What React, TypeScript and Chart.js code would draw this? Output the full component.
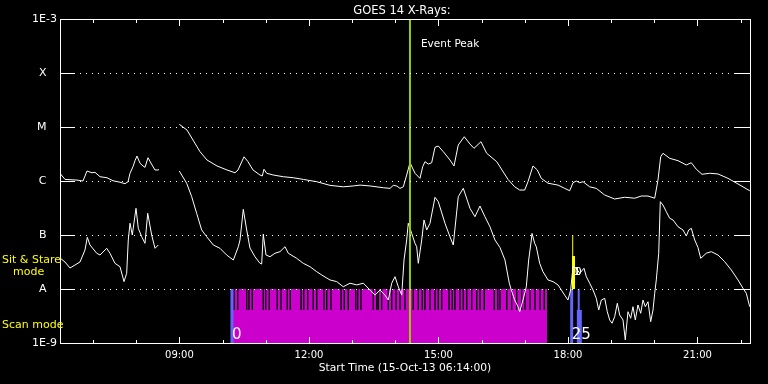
import React, { useEffect, useRef } from 'react';
import { Chart, registerables } from 'chart.js';

Chart.register(...registerables);

const TITLE = 'GOES 14 X-Rays:';
const X_TITLE = 'Start Time (15-Oct-13 06:14:00)';
const EVENT_LABEL = 'Event Peak';
const STARE_LABEL = ['Sit & Stare', 'mode'];
const SCAN_LABEL = 'Scan mode';
const FONT = '"DejaVu Sans", "Liberation Sans", sans-serif';

const T_START = 6 + 14 / 60;
const T_END = 22 + 13 / 60;

const yTickValues = [1e-9, 1e-8, 1e-7, 1e-6, 1e-5, 1e-4, 1e-3];
const yTickLabels = ['1E-9', 'A   ', 'B   ', 'C   ', 'M   ', 'X   ', '1E-3'];
const xMinorHours = [7, 8, 9, 10, 11, 12, 13, 14, 15, 16, 17, 18, 19, 20, 21, 22];
const xLabelHours = [9, 12, 15, 18, 21];

const eventPeakTime = 14.34;

// GOES long channel (1-8 A)
const longTimes = [
  6.233, 6.349, 6.627, 6.766, 6.859, 6.975, 7.044, 7.16, 7.322, 7.461, 7.623, 7.739, 7.809, 7.855,
  7.924, 7.971, 8.017, 8.087, 8.156, 8.202, 8.272, 8.365, 8.434, 8.503, 8.527, 8.75,
  8.997, 9.175, 9.314, 9.476, 9.638, 9.87, 10.102, 10.287, 10.357, 10.496, 10.588, 10.704, 10.866,
  10.919, 10.958, 11.021, 11.174, 11.406, 11.637, 11.869, 12.18, 12.488, 12.796, 13.028, 13.183,
  13.414, 13.722, 13.878, 13.954, 14.033, 14.109, 14.186, 14.264, 14.341, 14.457, 14.572, 14.635,
  14.688, 14.765, 14.843, 14.92, 14.996, 15.112, 15.267, 15.36, 15.459, 15.598, 15.73, 15.823,
  15.985, 16.117, 16.349, 16.611, 16.766, 16.882, 16.998, 17.074, 17.19, 17.29, 17.382, 17.537,
  17.769, 17.924, 18.04, 18.117, 18.193, 18.272, 18.348, 18.503, 18.656, 18.851, 19.082, 19.314,
  19.546, 19.699, 19.854, 20.009, 20.085, 20.148, 20.201, 20.356, 20.549, 20.741, 20.857, 20.973,
  21.105, 21.283, 21.476, 21.707, 21.939, 22.21,
];
const longFlux = [
  1.39e-6, 1.07e-6, 1.04e-6, 1.0e-6, 1.53e-6, 1.42e-6, 1.45e-6, 1.2e-6, 1.15e-6, 1.01e-6, 9.5e-7, 8.9e-7, 9.7e-7, 1.39e-6,
  1.84e-6, 2.38e-6, 2.9e-6, 2.13e-6, 1.9e-6, 1.79e-6, 2.7e-6, 1.98e-6, 1.6e-6, 1.6e-6, 1.63e-6, null,
  1.12e-5, 8.8e-6, 5.74e-6, 3.49e-6, 2.45e-6, 1.9e-6, 1.6e-6, 1.42e-6, 1.6e-6, 2.81e-6, 2.28e-6, 1.6e-6, 1.29e-6,
  1.24e-6, 1.65e-6, 1.39e-6, 1.29e-6, 1.2e-6, 1.15e-6, 1.07e-6, 9.7e-7, 8.3e-7, 7.8e-7, 8.1e-7, 8.4e-7,
  8.1e-7, 7.5e-7, 7.3e-7, 8.3e-7, 8.1e-7, 7.3e-7, 7.8e-7, 1.29e-6, 2.18e-6, 1.39e-6, 1.12e-6, 1.84e-6,
  2.28e-6, 2.06e-6, 2.18e-6, 4.21e-6, 4.45e-6, 3.49e-6, 2.45e-6, 1.9e-6, 4.64e-6, 6.6e-6, 4.84e-6, 4.03e-6,
  5.34e-6, 3.26e-6, 2.28e-6, 1.07e-6, 7.8e-7, 6.8e-7, 6.8e-7, 9.7e-7, 1.9e-6, 1.6e-6, 1.12e-6, 9.1e-7,
  8.4e-7, 7.3e-7, 6.6e-7, 9.3e-7, 1.0e-6, 9.3e-7, 9.7e-7, 7.8e-7, 7.3e-7, 5.5e-7, 4.64e-7, 5.0e-7,
  4.8e-7, 5.27e-7, 5.27e-7, 4.8e-7, 1.04e-6, 2.81e-6, 3.26e-6, 2.63e-6, 2.38e-6, 1.98e-6, 2.18e-6, 1.65e-6,
  1.33e-6, 1.39e-6, 1.35e-6, 1.12e-6, 8.8e-7, 6.6e-7,
];

// GOES short channel (0.5-4 A)
const shortTimes = [
  6.233, 6.349, 6.465, 6.581, 6.696, 6.812, 6.866, 6.928, 7.083, 7.16, 7.315, 7.391, 7.507, 7.623,
  7.716, 7.778, 7.815, 7.855, 7.908, 7.994, 8.047, 8.126, 8.202, 8.265, 8.357, 8.434, 8.51, 8.75,
  8.997, 9.168, 9.284, 9.399, 9.515, 9.631, 9.784, 9.939, 10.094, 10.248, 10.364, 10.403, 10.479,
  10.558, 10.634, 10.75, 10.866, 10.905, 10.942, 11.005, 11.098, 11.213, 11.329, 11.445, 11.522,
  11.716, 11.869, 12.024, 12.18, 12.295, 12.488, 12.643, 12.796, 12.951, 13.106, 13.259, 13.414,
  13.53, 13.646, 13.762, 13.838, 13.917, 13.994, 14.07, 14.149, 14.202, 14.264, 14.301, 14.38,
  14.457, 14.496, 14.533, 14.612, 14.665, 14.728, 14.804, 14.92, 14.996, 15.151, 15.251, 15.343,
  15.459, 15.575, 15.73, 15.845, 15.961, 16.077, 16.193, 16.309, 16.425, 16.541, 16.641, 16.687,
  16.766, 16.843, 16.882, 16.958, 17.035, 17.09, 17.151, 17.167, 17.229, 17.266, 17.345, 17.421,
  17.537, 17.653, 17.769, 17.846, 17.924, 18.0, 18.063, 18.117, 18.193, 18.272, 18.371, 18.425,
  18.503, 18.58, 18.656, 18.712, 18.773, 18.851, 18.911, 18.967, 19.02, 19.082, 19.143, 19.198,
  19.275, 19.328, 19.39, 19.453, 19.506, 19.56, 19.622, 19.685, 19.738, 19.792, 19.854, 19.916,
  19.97, 20.009, 20.046, 20.102, 20.139, 20.201, 20.278, 20.356, 20.433, 20.549, 20.665, 20.741,
  20.797, 20.857, 20.936, 21.012, 21.075, 21.204, 21.32, 21.476, 21.631, 21.784, 21.939, 22.055,
  22.131, 22.21,
];
const shortFlux = [
  3.75e-8, 3.16e-8, 2.45e-8, 2.78e-8, 3.16e-8, 5.27e-8, 9.06e-8, 6.53e-8, 4.59e-8, 4.26e-8, 5.67e-8, 4.59e-8, 2.99e-8, 2.59e-8,
  1.37e-8, 1.95e-8, 8.08e-8, 1.65e-7, 1.0e-7, 3.12e-7, 1.33e-7, 9.3e-8, 7.02e-8, 2.52e-7, 1.0e-7, 5.67e-8, 6.53e-8, null,
  1.53e-6, 9.06e-7, 5.12e-7, 2.52e-7, 1.24e-7, 9.3e-8, 6.53e-8, 5.67e-8, 4.26e-8, 3.44e-8, 6.07e-8, 8.08e-8, 2.99e-7,
  1.24e-7, 5.74e-8, 3.96e-8, 2.99e-8, 2.9e-8, 1.04e-7, 4.26e-8, 3.96e-8, 4.59e-8, 4.91e-8, 6.07e-8, 4.59e-8,
  3.7e-8, 2.99e-8, 2.59e-8, 2.09e-8, 1.82e-8, 1.47e-8, 1.37e-8, 1.1e-8, 1.28e-8, 1.19e-8, 1.28e-8, 9.6e-9,
  7.7e-9, 9.6e-9, 7.7e-9, 6.25e-9, 1.28e-8, 1.69e-8, 1.1e-8, 7.7e-9, 3.44e-8, 8.08e-8, 1.65e-7, 1.07e-7,
  7.02e-8, 6.07e-8, 2.99e-8, 8.08e-8, 1.9e-7, 1.24e-7, 1.65e-7, 4.99e-7, 4.14e-7, 1.65e-7, 1.0e-7, 6.53e-8,
  5.12e-7, 7.33e-7, 3.12e-7, 2.18e-7, 3.44e-7, 2.18e-7, 1.42e-7, 8.08e-8, 5.87e-8, 3.44e-8, 1.28e-8, 9.6e-9,
  6.25e-9, 4.7e-9, 3.8e-9, 6.25e-9, 1.1e-8, 3.44e-8, 8.08e-8, 1.07e-7, 7.02e-8, 6.07e-8, 2.99e-8, 2.09e-8,
  1.47e-8, 1.37e-8, 1.19e-8, 9.6e-9, 7.7e-9, 6.25e-9, 9.6e-9, 2.59e-8, 2.42e-8, 1.95e-8, 2.42e-8, 1.69e-8,
  1.28e-8, 9.6e-9, 6.72e-9, 4.08e-9, 6.25e-9, 6.72e-9, 3.8e-9, 2.67e-9, 2.32e-9, 3.07e-9, 5.44e-9, 3.3e-9,
  2.67e-9, 1.14e-9, 3.8e-9, 2.87e-9, 4.7e-9, 2.67e-9, 5.06e-9, 3.55e-9, 6.25e-9, 4.7e-9, 5.82e-9, 2.48e-9,
  4.08e-9, 8.33e-9, 1.47e-8, 4.59e-8, 4.14e-7, 3.59e-7, 2.7e-7, 2.04e-7, 1.9e-7, 1.42e-7, 1.24e-7, 9.58e-8,
  1.24e-7, 1.33e-7, 8.08e-8, 5.87e-8, 3.7e-8, 4.59e-8, 4.91e-8, 4.26e-8, 3.2e-8, 2.25e-8, 1.47e-8, 1.03e-8,
  8.33e-9, 4.7e-9,
];

// Observation mode bands
const SCAN_LOW = 1e-9;
const SCAN_MID = 4.08e-9;
const SCAN_TOP = 1e-8;
const STARE_MID = 4.08e-8;
const STARE_TOP = 1e-7;

const scanSpan = [10.241, 17.514];
const scanGapTimes = [
  10.264, 10.35, 10.558, 10.611, 10.688, 10.943, 10.998, 11.082, 11.267, 11.353, 11.499, 11.568,
  11.816, 11.879, 11.971, 12.101, 12.18, 12.349, 12.411, 12.511, 12.743, 12.819, 12.912, 13.083,
  13.129, 13.206, 13.491, 13.569, 13.607, 13.685, 13.838, 13.917, 14.017, 14.109, 14.225, 14.417,
  14.533, 14.626, 14.688, 14.804, 14.92, 14.996, 15.075, 15.244, 15.321, 15.383, 15.499, 15.576,
  15.654, 15.77, 15.886, 15.962, 16.062, 16.294, 16.372, 16.426, 16.581, 16.696, 16.812, 16.928,
  17.005, 17.121, 17.236, 17.352, 17.452,
];
const scanStartTimes = [10.217, 18.086];
const scanStartLabels = ['0', '25'];
const scanUpperTimes = [18.249];
const scanLowerTimes = [18.263];
const stareThinTimes = [18.11];
const stareThickTimes = [18.128];
const stareLabel = ['1', '0'];

function series(times: number[], values: (number | null)[]) {
  return times.map((t, i) => ({ x: t, y: values[i] }));
}

function verticals(times: number[], lo: number, hi: number) {
  const pts: { x: number; y: number | null }[] = [];
  times.forEach((t) => {
    pts.push({ x: t, y: lo }, { x: t, y: hi }, { x: t, y: null });
  });
  return pts;
}

const framePlugin = {
  id: 'goesFrame',
  beforeDraw(chart: any) {
    const { ctx, width, height } = chart;
    ctx.save();
    ctx.fillStyle = '#000000';
    ctx.fillRect(0, 0, width, height);
    ctx.restore();
  },
  afterDraw(chart: any) {
    const { ctx, chartArea } = chart;
    const xs = chart.scales.x;
    const ys = chart.scales.y;
    const { left, right, top, bottom } = chartArea;
    ctx.save();
    ctx.strokeStyle = '#ffffff';
    ctx.fillStyle = '#ffffff';
    ctx.lineWidth = 1;

    // dotted grid and y ticks
    yTickValues.forEach((v, i) => {
      if (i === 0 || i === yTickValues.length - 1) return;
      const y = Math.round(ys.getPixelForValue(v));
      for (let x = left + 20; x <= right - 16; x += 6) ctx.fillRect(x, y, 1, 1);
      ctx.beginPath();
      ctx.moveTo(left, y + 0.5);
      ctx.lineTo(left + 15, y + 0.5);
      ctx.moveTo(right - 15, y + 0.5);
      ctx.lineTo(right + 1, y + 0.5);
      ctx.stroke();
    });

    // x ticks (inward, top and bottom)
    xMinorHours.forEach((h) => {
      const x = Math.round(xs.getPixelForValue(h)) + 0.5;
      const major = xLabelHours.includes(h);
      ctx.beginPath();
      ctx.moveTo(x, top);
      ctx.lineTo(x, top + (major ? 7 : 4));
      ctx.moveTo(x, bottom + 1);
      ctx.lineTo(x, bottom - (major ? 6 : 3));
      ctx.stroke();
    });

    // box
    ctx.strokeRect(left + 0.5, top + 0.5, right - left, bottom - top);

    // title
    ctx.font = `11.5px ${FONT}`;
    ctx.textAlign = 'center';
    ctx.textBaseline = 'alphabetic';
    ctx.fillText(TITLE, 402, 14);

    // event label
    const ex = xs.getPixelForValue(eventPeakTime);
    ctx.font = `10.5px ${FONT}`;
    ctx.textAlign = 'left';
    ctx.fillText(EVENT_LABEL, ex + 11, top + 28);

    // scan index labels
    ctx.font = `15px ${FONT}`;
    scanStartTimes.forEach((t, i) => {
      ctx.fillText(scanStartLabels[i], xs.getPixelForValue(t), bottom - 4);
    });
    ctx.font = `11px ${FONT}`;
    stareThinTimes.forEach((t) => {
      const sx = xs.getPixelForValue(t);
      ctx.fillText(stareLabel[0], sx + 1, ys.getPixelForValue(STARE_MID) + 19);
      ctx.fillText(stareLabel[1], sx + 2, ys.getPixelForValue(STARE_MID) + 19);
    });

    // mode labels
    ctx.fillStyle = '#ffff00';
    ctx.font = `11px ${FONT}`;
    ctx.fillText(STARE_LABEL[0], 2, 263);
    ctx.fillText(STARE_LABEL[1], 13, 275);
    ctx.fillText(SCAN_LABEL, 2, 328);
    ctx.restore();
  },
};

export default function App() {
  const ref = useRef<HTMLCanvasElement | null>(null);

  useEffect(() => {
    if (!ref.current) return;
    const line = (extra: any) => ({
      type: 'line',
      pointRadius: 0,
      fill: false,
      spanGaps: false,
      borderCapStyle: 'butt',
      tension: 0,
      ...extra,
    });

    const chart = new Chart(ref.current, {
      type: 'line',
      data: {
        datasets: [
          line({
            label: 'Event Peak',
            data: [
              { x: eventPeakTime, y: 1e-9 },
              { x: eventPeakTime, y: 1e-3 },
            ],
            borderColor: '#9acd00',
            borderWidth: 2,
          }),
          line({ label: 'Long', data: series(longTimes, longFlux), borderColor: '#ffffff', borderWidth: 1 }),
          line({ label: 'Short', data: series(shortTimes, shortFlux), borderColor: '#ffffff', borderWidth: 1 }),
          line({ label: 'StareThin', data: verticals(stareThinTimes, SCAN_TOP, STARE_TOP), borderColor: '#ffff00', borderWidth: 1 }),
          line({ label: 'StareThick', data: verticals(stareThickTimes, SCAN_TOP, STARE_MID), borderColor: '#ffff00', borderWidth: 3 }),
          line({ label: 'ScanStart', data: verticals(scanStartTimes, SCAN_LOW, SCAN_TOP), borderColor: '#6464ff', borderWidth: 3 }),
          line({ label: 'ScanUpper', data: verticals(scanUpperTimes, SCAN_MID, SCAN_TOP), borderColor: '#6464ff', borderWidth: 2 }),
          line({ label: 'ScanLower', data: verticals(scanLowerTimes, SCAN_LOW, SCAN_MID), borderColor: '#6464ff', borderWidth: 5 }),
          line({ label: 'ScanGaps', data: verticals(scanGapTimes, SCAN_MID, SCAN_TOP), borderColor: '#000000', borderWidth: 1.4 }),
          line({
            label: 'Scan',
            data: [
              { x: scanSpan[0], y: SCAN_TOP },
              { x: scanSpan[1], y: SCAN_TOP },
            ],
            borderWidth: 0,
            borderColor: 'rgba(0,0,0,0)',
            backgroundColor: '#cc00cc',
            fill: 'start',
          }),
        ],
      },
      options: {
        animation: false,
        responsive: false,
        events: [],
        layout: { padding: { top: 19, right: 18, left: 0, bottom: 0 } },
        plugins: { legend: { display: false }, tooltip: { enabled: false }, title: { display: false } },
        scales: {
          x: {
            type: 'linear',
            min: T_START,
            max: T_END,
            grid: { display: false, drawTicks: false },
            border: { display: false },
            afterBuildTicks: (scale: any) => {
              scale.ticks = xLabelHours.map((h) => ({ value: h }));
            },
            afterFit: (scale: any) => {
              scale.height = 41;
            },
            ticks: {
              autoSkip: false,
              maxRotation: 0,
              padding: 6,
              color: '#ffffff',
              font: { family: FONT, size: 10 },
              callback: (v: any) => `${String(v).padStart(2, '0')}:00`,
            },
            title: {
              display: true,
              text: X_TITLE,
              color: '#ffffff',
              font: { family: FONT, size: 10.7 },
              padding: { top: 0, bottom: 9.6 },
            },
          },
          y: {
            type: 'logarithmic',
            min: 1e-9,
            max: 1e-3,
            grid: { display: false, drawTicks: false },
            border: { display: false },
            afterBuildTicks: (scale: any) => {
              scale.ticks = yTickValues.map((v) => ({ value: v }));
            },
            afterFit: (scale: any) => {
              scale.width = 60;
            },
            ticks: {
              autoSkip: false,
              padding: 3,
              color: '#ffffff',
              font: { family: FONT, size: 11 },
              callback: (_v: any, i: number) => yTickLabels[i],
            },
          },
        },
      } as any,
      plugins: [framePlugin],
    } as any);
    return () => chart.destroy();
  }, []);

  return (
    <div style={{ position: 'absolute', left: 0, top: 0, width: 768, height: 384, background: '#000' }}>
      <canvas ref={ref} width={768} height={384} style={{ display: 'block', width: 768, height: 384 }} />
    </div>
  );
}
